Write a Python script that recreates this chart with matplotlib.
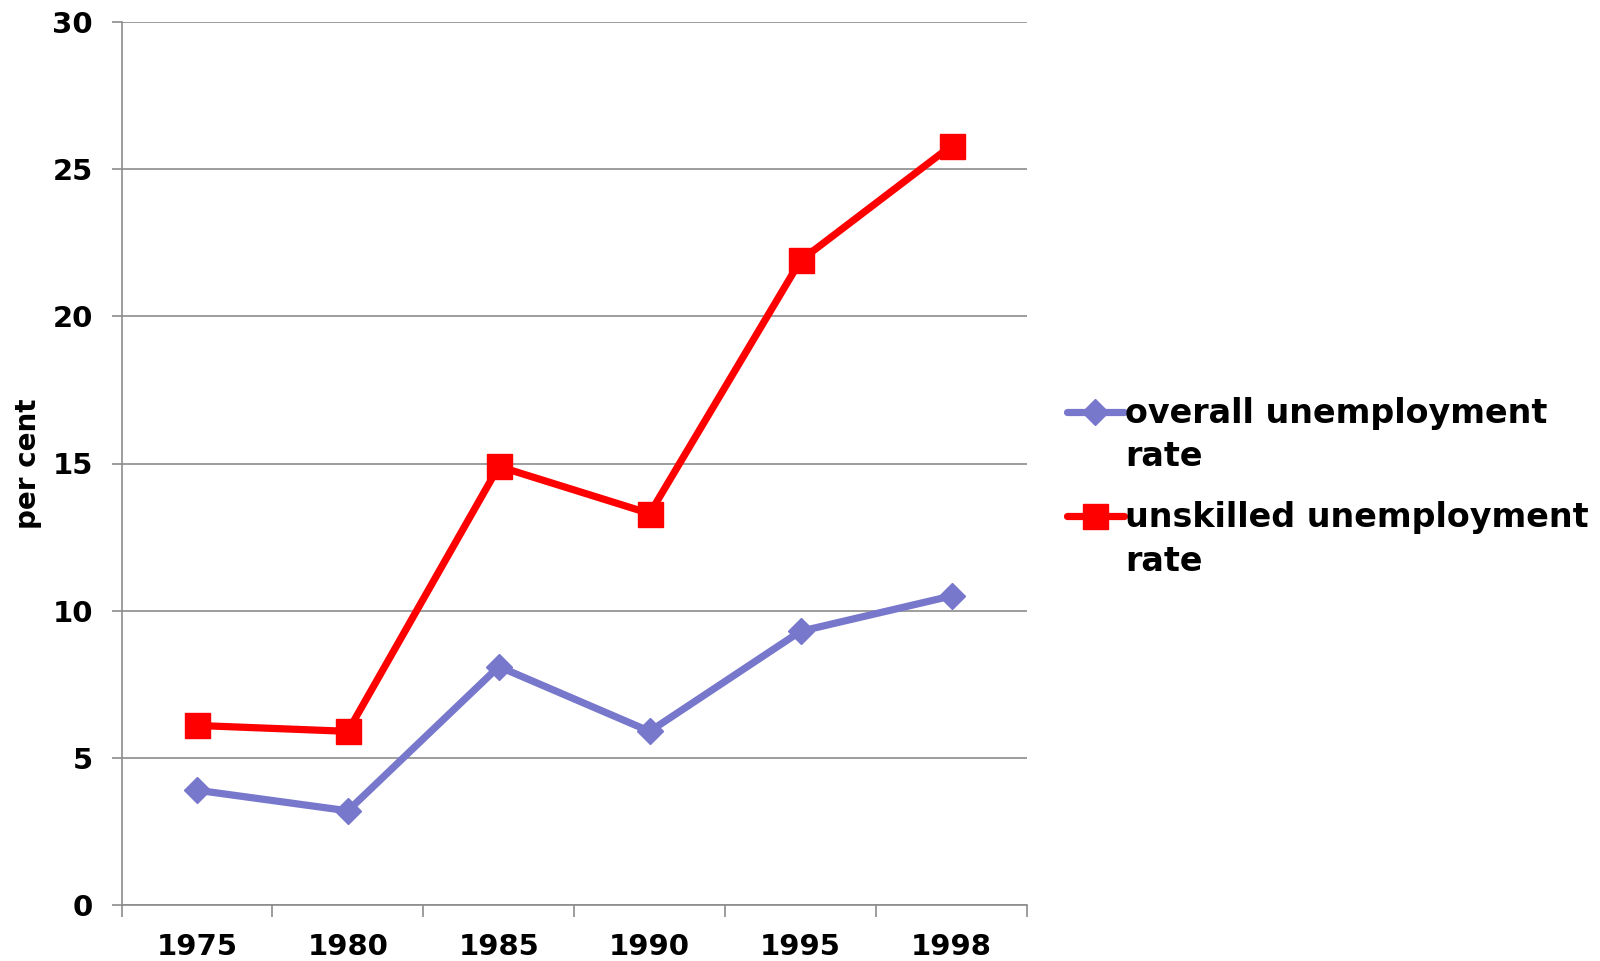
import matplotlib
matplotlib.use("Agg")
import matplotlib.pyplot as plt
import numpy as np

years = ["1975", "1980", "1985", "1990", "1995", "1998"]
overall_rate = [3.9, 3.2, 8.1, 5.9, 9.3, 10.5]
unskilled_rate = [6.1, 5.9, 14.9, 13.3, 21.9, 25.8]
series_labels = ["overall unemployment\nrate", "unskilled unemployment\nrate"]
y_ticks = [0, 5, 10, 15, 20, 25, 30]

plt.rcParams["font.family"] = ["DejaVu Sans"]
plt.rcParams["font.weight"] = "bold"

W, H, DPI = 1600, 961, 100
fig = plt.figure(figsize=(W / DPI, H / DPI), dpi=DPI)
ax = fig.add_axes([121.5 / W, 1 - 905 / H, (1027 - 121.5) / W, (905 - 22) / H])

grid_col = "#8c8c8c"
x = np.arange(len(years))

ax.plot(x, overall_rate, color="#7777cc", lw=5.2, marker="D", markersize=13.5,
        label=series_labels[0], solid_joinstyle="round", solid_capstyle="round")
ax.plot(x, unskilled_rate, color="#ff0000", lw=5.2, marker="s", markersize=18,
        label=series_labels[1], solid_joinstyle="round", solid_capstyle="round")

ax.set_xlim(-0.5, len(years) - 0.5)
ax.set_ylim(0, 30)
ax.set_yticks(y_ticks)
ax.set_yticklabels([str(v) for v in y_ticks])
ax.yaxis.grid(True, color=grid_col, lw=1.2)
ax.set_axisbelow(True)

# category boundaries carry the tick marks, centres carry the labels
ax.set_xticks(np.arange(len(years) + 1) - 0.5)
ax.set_xticklabels([])
ax.set_xticks(x, minor=True)
ax.set_xticklabels(years, minor=True)
ax.tick_params(axis="x", which="major", length=8.5, width=1.2, color=grid_col, direction="out")
ax.tick_params(axis="x", which="minor", length=0, pad=20, labelsize=21)
ax.tick_params(axis="y", length=7, width=1.2, color=grid_col, direction="out", pad=13.5, labelsize=21)

for side in ("top", "right"):
    ax.spines[side].set_visible(False)
for side in ("left", "bottom"):
    ax.spines[side].set_color(grid_col)
    ax.spines[side].set_linewidth(1.2)

fig.text(28 / W, 1 - 464 / H, "per cent", rotation=90, ha="center", va="center",
         fontsize=20, fontweight="bold")

leg = ax.legend(loc="upper left", bbox_to_anchor=(1067 / W, 1 - 397 / H),
                bbox_transform=fig.transFigure, frameon=False, fontsize=24,
                handlelength=1.7, handleheight=1.3, handletextpad=0.05,
                labelspacing=0.84, borderpad=0, borderaxespad=0)
for t in leg.get_texts():
    t.set_fontweight("bold")
    t.set_linespacing(1.4)
# put each key level with the first line of its label
for col in leg._legend_handle_box.get_children():
    for row in col.get_children():
        row.align = "top"

fig.savefig("out.png", dpi=DPI)
